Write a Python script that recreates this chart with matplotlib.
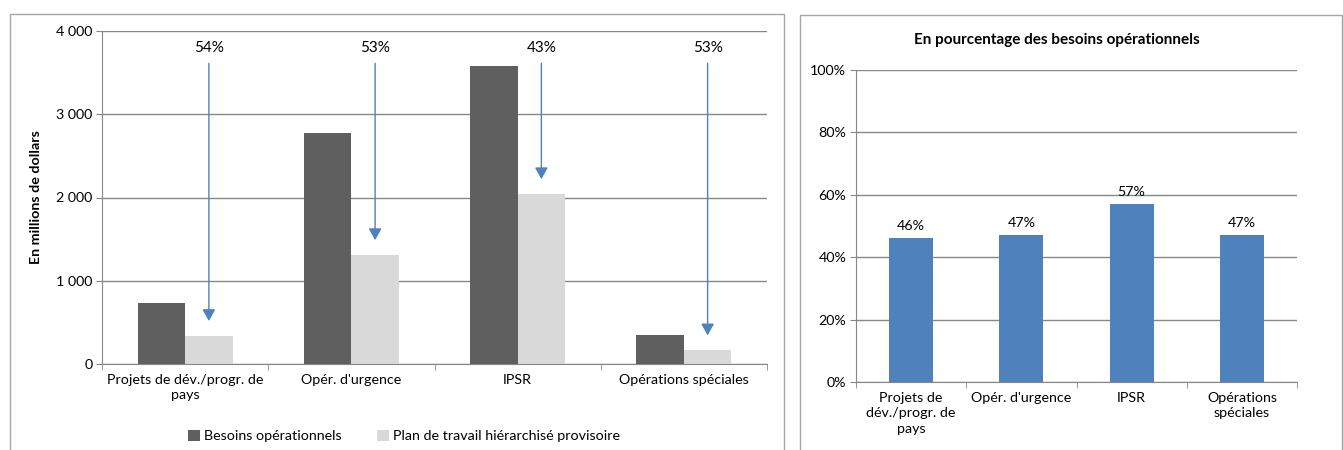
import matplotlib
matplotlib.use("Agg")
import matplotlib.pyplot as plt
from matplotlib.patches import Rectangle
from matplotlib.ticker import FuncFormatter, FixedLocator

plt.rcParams['font.family'] = ['Lato', 'DejaVu Sans']
plt.rcParams['font.size'] = 10.3

categories_left = ["Projets de dév./progr. de\npays", "Opér. d'urgence", "IPSR", "Opérations spéciales"]
categories_right = ["Projets de\ndév./progr. de\npays", "Opér. d'urgence", "IPSR", "Opérations\nspéciales"]
besoins = [732, 2772, 3577, 348]
plan = [336, 1308, 2040, 164]
reduction_labels = ["54%", "53%", "43%", "53%"]
pct_besoins = [46, 47, 57, 47]

dark = "#5f5f5f"
light = "#d9d9d9"
blue = "#4f81bd"
grid = "#878787"

fig = plt.figure(figsize=(13.43, 4.5), dpi=100)

# panel borders
fig.patches.append(Rectangle((10 / 1343, -0.05), 774 / 1343, (450 - 14) / 450 + 0.05,
                             transform=fig.transFigure, fill=False, ec="#a6a6a6", lw=1))
fig.patches.append(Rectangle((800 / 1343, -0.05), 542 / 1343, (450 - 15) / 450 + 0.05,
                             transform=fig.transFigure, fill=False, ec="#a6a6a6", lw=1))


def style_axes(ax):
    for s in ["top", "right"]:
        ax.spines[s].set_visible(False)
    for s in ["left", "bottom"]:
        ax.spines[s].set_color(grid)
    ax.grid(axis="y", color=grid, lw=1)
    ax.set_axisbelow(True)
    ax.tick_params(axis="y", length=4, color=grid, pad=3)
    ax.tick_params(axis="x", which="major", length=0, pad=7)
    ax.tick_params(axis="x", which="minor", length=4, color=grid)
    ax.set_xlim(-0.5, 3.5)
    ax.xaxis.set_minor_locator(FixedLocator([-0.5, 0.5, 1.5, 2.5, 3.5]))


# left chart
ax1 = fig.add_axes([102 / 1343, (450 - 364) / 450, 665 / 1343, 333 / 450])
style_axes(ax1)
w = 0.2857
x = list(range(len(categories_left)))
ax1.bar([i - w / 2 for i in x], besoins, w, color=dark, label="Besoins opérationnels")
ax1.bar([i + w / 2 for i in x], plan, w, color=light, label="Plan de travail hiérarchisé provisoire")
ax1.set_ylim(0, 4000)
ax1.set_yticks([0, 1000, 2000, 3000, 4000])
ax1.yaxis.set_major_formatter(FuncFormatter(lambda v, p: f"{int(v):,}".replace(",", " ")))
ax1.set_xticks(x)
ax1.set_xticklabels(categories_left, linespacing=1.35)
ax1.set_ylabel("En millions de dollars", fontweight="bold", labelpad=10)

for i in x:
    ax1.annotate("", xy=(i + w / 2, plan[i] + 180), xytext=(i + w / 2, 3612),
                 arrowprops=dict(arrowstyle="-|>,head_length=0.5,head_width=0.28", color=blue,
                                 lw=1, mutation_scale=14, shrinkA=0, shrinkB=0))
    ax1.text(i + w / 2, 3800, reduction_labels[i], ha="center", va="center", fontsize=11)

fig.legend(loc="center", bbox_to_anchor=(404 / 1343, 14 / 450), ncol=2, frameon=False,
           handlelength=0.8, handleheight=0.8, handletextpad=0.3, columnspacing=2.5)

# right chart
ax2 = fig.add_axes([856 / 1343, (450 - 382) / 450, 441 / 1343, 312 / 450])
style_axes(ax2)
ax2.bar(x, pct_besoins, 0.4, color=blue)
ax2.set_ylim(0, 100)
ax2.set_yticks([0, 20, 40, 60, 80, 100])
ax2.yaxis.set_major_formatter(FuncFormatter(lambda v, p: f"{int(v)}%"))
ax2.set_xticks(x)
ax2.set_xticklabels(categories_right, linespacing=1.35)
for i in x:
    ax2.text(i, pct_besoins[i] + 2, f"{pct_besoins[i]}%", ha="center", va="bottom")
ax2.set_title("En pourcentage des besoins opérationnels", fontweight="bold", fontsize=11,
              x=0.456, pad=19)

fig.savefig("out.png", dpi=100)
